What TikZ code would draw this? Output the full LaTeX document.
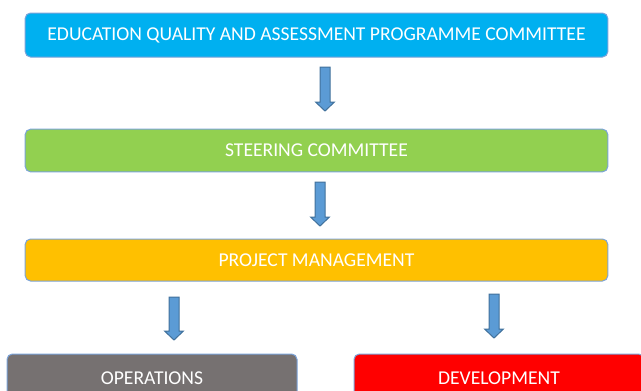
\documentclass[tikz,border=0pt]{standalone}
\usepackage{fontspec}
\setmainfont{Carlito}
\usepackage{tikz}
\usetikzlibrary{calc}
\definecolor{boxline}{HTML}{7BA3D9}
\definecolor{arrowfill}{HTML}{5B9BD5}
\definecolor{arrowline}{HTML}{41719C}
\definecolor{edublue}{HTML}{00B0F0}
\definecolor{steergreen}{HTML}{92D050}
\definecolor{projorange}{HTML}{FFC000}
\definecolor{opsgray}{HTML}{767171}
\definecolor{devred}{HTML}{FF0000}
\tikzset{
  orgbox/.style={draw=boxline, line width=0.75pt, rounded corners=4pt, text=white,
    font=\fontsize{14.7}{18}\selectfont, inner sep=0pt},
  blockarrow/.style={draw=arrowline, fill=arrowfill, line width=0.75pt, to path={
    let \p1=(\tikztostart), \p2=(\tikztotarget) in
    (\x1-3.75pt,\y1) -- (\x1+3.75pt,\y1) -- (\x1+3.75pt,\y2+6.75pt) -- (\x1+7.1pt,\y2+6.75pt)
    -- (\x2,\y2) -- (\x1-7.1pt,\y2+6.75pt) -- (\x1-3.75pt,\y2+6.75pt) -- cycle}}
}
\begin{document}
\begin{tikzpicture}[x=0.75pt, y=-0.75pt]
    \useasboundingbox (0,0) rectangle (641,390);
    \node[orgbox, fill=edublue, minimum width=437pt, minimum height=33pt] (edu) at (316.5,35)
        {EDUCATION QUALITY AND ASSESSMENT PROGRAMME COMMITTEE};
    \node[orgbox, fill=steergreen, minimum width=437pt, minimum height=32pt] (steer) at (316.5,150.5)
        {STEERING COMMITTEE};
    \node[orgbox, fill=projorange, minimum width=437pt, minimum height=31.5pt] (proj) at (316.5,260)
        {PROJECT MANAGEMENT};
    \node[orgbox, fill=opsgray, minimum width=217.5pt, minimum height=36pt] (ops) at (152,378)
        {OPERATIONS};
    \node[orgbox, fill=devred, minimum width=217.5pt, minimum height=36pt] (dev) at (499,378)
        {DEVELOPMENT};
    \coordinate (a1s) at (325,67);  \coordinate (a1e) at (325,111);
    \coordinate (a2s) at (320,182); \coordinate (a2e) at (320,226);
    \coordinate (a3s) at (174,297); \coordinate (a3e) at (174,340);
    \coordinate (a4s) at (494,294); \coordinate (a4e) at (494,338);
    \draw[blockarrow] (a1s) to (a1e);
    \draw[blockarrow] (a2s) to (a2e);
    \draw[blockarrow] (a3s) to (a3e);
    \draw[blockarrow] (a4s) to (a4e);
\end{tikzpicture}
\end{document}
